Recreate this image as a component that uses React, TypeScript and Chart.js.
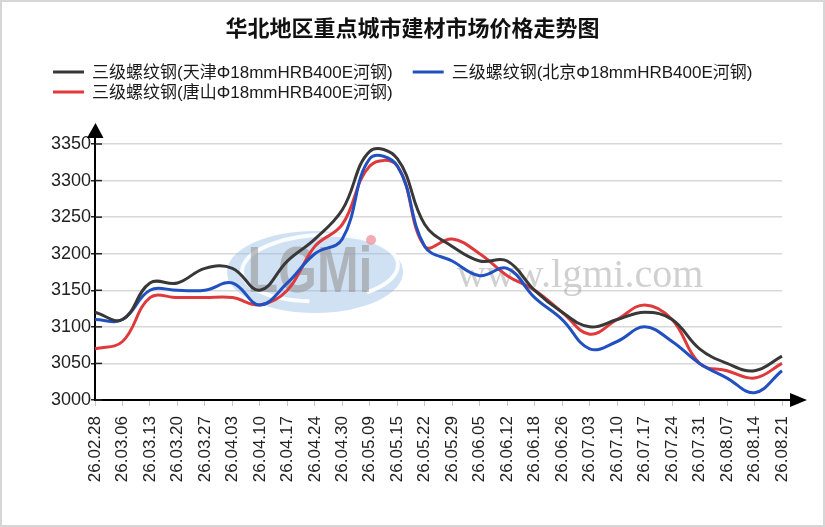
import React, { useRef, useEffect } from 'react';
import Chart from 'chart.js/auto';

// weekly dates (yy.mm.dd)
const labels = [
  '26.02.28', '26.03.06', '26.03.13', '26.03.20', '26.03.27', '26.04.03', '26.04.10',
  '26.04.17', '26.04.24', '26.04.30', '26.05.09', '26.05.15', '26.05.22', '26.05.29',
  '26.06.05', '26.06.12', '26.06.18', '26.06.26', '26.07.03', '26.07.10', '26.07.17',
  '26.07.24', '26.07.31', '26.08.07', '26.08.14', '26.08.21',
];

const tianjin = [
  3120, 3110, 3160, 3160, 3180, 3180, 3150, 3190, 3220, 3260, 3340, 3330, 3240,
  3210, 3190, 3190, 3150, 3120, 3100, 3110, 3120, 3110, 3070, 3050, 3040, 3060,
];
const beijing = [
  3110, 3110, 3150, 3150, 3150, 3160, 3130, 3160, 3200, 3220, 3330, 3320, 3210,
  3190, 3170, 3180, 3140, 3110, 3070, 3080, 3100, 3080, 3050, 3030, 3010, 3040,
];
const tangshan = [
  3070, 3080, 3140, 3140, 3140, 3140, 3130, 3150, 3210, 3240, 3320, 3320, 3210,
  3220, 3200, 3170, 3150, 3120, 3090, 3110, 3130, 3110, 3050, 3040, 3030, 3050,
];

const seriesNames = [
  '三级螺纹钢(天津Φ18mmHRB400E河钢)',
  '三级螺纹钢(北京Φ18mmHRB400E河钢)',
  '三级螺纹钢(唐山Φ18mmHRB400E河钢)',
];
const seriesColors = ['#383838', '#2150c0', '#e0393b'];

const yMin = 3000;
const yMax = 3350;
const yStep = 50;

const titleText = '华北地区重点城市建材市场价格走势图';

const latinFont = '"Liberation Sans", Arial, sans-serif';
const mixedFont = '"Liberation Sans", "Noto Sans CJK SC", sans-serif';

// legend drawn in rows, like the original (wide gap between items, tight rows)
const rowLegend = {
  id: 'rowLegend',
  afterDraw(chart: any) {
    const { ctx } = chart;
    const startX = 51;
    let x = startX;
    let y = 70;
    ctx.save();
    ctx.font = '17px ' + mixedFont;
    ctx.textBaseline = 'middle';
    chart.data.datasets.forEach((ds: any) => {
      const w = 31 + 8 + ctx.measureText(ds.label).width;
      if (x > startX && x + w > chart.chartArea.right) {
        x = startX;
        y += 20;
      }
      ctx.fillStyle = ds.borderColor;
      ctx.fillRect(x, y - 1.5, 31, 3);
      ctx.fillStyle = '#1a1a1a';
      ctx.fillText(ds.label, x + 39, y + 1);
      x += w + 20;
    });
    ctx.restore();
  },
};

// faint site watermark behind the lines
const watermark = {
  id: 'watermark',
  beforeDatasetsDraw(chart: any) {
    const { ctx } = chart;
    ctx.save();
    ctx.fillStyle = 'rgba(150,188,228,0.45)';
    ctx.beginPath();
    ctx.ellipse(313, 270, 88, 41, 0, 0, Math.PI * 2);
    ctx.fill();
    ctx.strokeStyle = 'rgba(255,255,255,0.9)';
    ctx.lineWidth = 4;
    ctx.beginPath();
    ctx.ellipse(318, 266, 78, 33, -0.05, Math.PI * 0.55, Math.PI * 2.3);
    ctx.stroke();

    ctx.save();
    ctx.translate(308, 290);
    ctx.scale(1, 1.3);
    ctx.font = 'bold 50px ' + latinFont;
    ctx.textAlign = 'center';
    ctx.textBaseline = 'alphabetic';
    ctx.fillStyle = 'rgba(150,150,150,0.6)';
    ctx.fillText('LGMi', 0, 0);
    ctx.restore();
    ctx.fillStyle = 'rgba(240,150,160,0.8)';
    ctx.beginPath();
    ctx.arc(369, 238, 5, 0, Math.PI * 2);
    ctx.fill();

    ctx.font = '40px "Liberation Serif", serif';
    ctx.fillStyle = 'rgba(170,170,170,0.55)';
    ctx.textBaseline = 'alphabetic';
    ctx.fillText('www.lgmi.com', 455, 285);
    ctx.restore();
  },
};

// axis extensions with arrow heads, and the dark tick stubs on the y axis
const axisArrows = {
  id: 'axisArrows',
  afterDatasetsDraw(chart: any) {
    const { ctx, chartArea, scales } = chart;
    const { left, right, top, bottom } = chartArea;
    ctx.save();
    ctx.strokeStyle = '#000';
    ctx.fillStyle = '#000';
    ctx.lineWidth = 2;
    ctx.beginPath();
    ctx.moveTo(left, top + 1);
    ctx.lineTo(left, top - 8);
    ctx.moveTo(right - 1, bottom);
    ctx.lineTo(right + 10, bottom);
    ctx.stroke();

    ctx.beginPath();
    ctx.moveTo(left + 0.5, top - 21);
    ctx.lineTo(left - 8, top - 6);
    ctx.lineTo(left + 8.5, top - 6);
    ctx.closePath();
    ctx.fill();

    ctx.beginPath();
    ctx.moveTo(right + 25, bottom);
    ctx.lineTo(right + 8, bottom - 7);
    ctx.lineTo(right + 8, bottom + 7);
    ctx.closePath();
    ctx.fill();

    const ys = scales.y;
    ctx.strokeStyle = '#222';
    ctx.lineWidth = 1.5;
    ys.ticks.forEach((_t: any, i: number) => {
      const py = ys.getPixelForTick(i);
      ctx.beginPath();
      ctx.moveTo(left, py);
      ctx.lineTo(left + 7, py);
      ctx.stroke();
    });
    ctx.restore();
  },
};

const App = () => {
  const canvasRef = useRef<HTMLCanvasElement | null>(null);
  const chartRef = useRef<Chart | null>(null);

  useEffect(() => {
    if (!canvasRef.current) return;
    const series = [tianjin, beijing, tangshan];
    chartRef.current = new Chart(canvasRef.current, {
      type: 'line',
      data: {
        labels,
        datasets: series.map((data, i) => ({
          label: seriesNames[i],
          data,
          borderColor: seriesColors[i],
          backgroundColor: seriesColors[i],
          borderWidth: 3,
          pointRadius: 0,
          tension: 0.4,
          fill: false,
        })),
      },
      options: {
        animation: false,
        responsive: true,
        maintainAspectRatio: false,
        events: [],
        layout: { padding: { left: 41, right: 41, top: 0, bottom: 0 } },
        plugins: {
          legend: { display: false },
          tooltip: { enabled: false },
          title: {
            display: true,
            text: titleText,
            color: '#111',
            font: { family: '"Noto Sans CJK SC", sans-serif', size: 22, weight: 'bold' },
            padding: { top: 12, bottom: 103.6 },
          },
        },
        scales: {
          x: {
            offset: false,
            grid: {
              display: true,
              drawOnChartArea: false,
              drawTicks: true,
              tickLength: 6,
              tickColor: '#c4c4c4',
            },
            border: { display: true, color: '#000', width: 2 },
            ticks: {
              autoSkip: false,
              minRotation: 90,
              maxRotation: 90,
              padding: 10,
              color: '#222',
              font: { family: latinFont, size: 17 },
            },
            afterFit: (s: any) => {
              s.height = 125;
            },
          },
          y: {
            min: yMin,
            max: yMax,
            ticks: {
              stepSize: yStep,
              padding: 0,
              color: '#222',
              font: { family: latinFont, size: 18 },
              callback: (v: any) => String(v),
            },
            grid: { color: '#d8d8d8', lineWidth: 1.5, tickLength: 4, tickColor: '#222' },
            border: { display: true, color: '#000', width: 2 },
            afterFit: (s: any) => {
              s.width = 52;
            },
          },
        },
      },
      plugins: [watermark, axisArrows, rowLegend],
    });
    return () => {
      if (chartRef.current) {
        chartRef.current.destroy();
        chartRef.current = null;
      }
    };
  }, []);

  return (
    <div
      style={{
        position: 'absolute',
        left: 0,
        top: 0,
        width: 825,
        height: 527,
        boxSizing: 'border-box',
        border: '2px solid #d6d6d6',
        background: '#fff',
      }}
    >
      <canvas ref={canvasRef} />
    </div>
  );
};

export default App;
